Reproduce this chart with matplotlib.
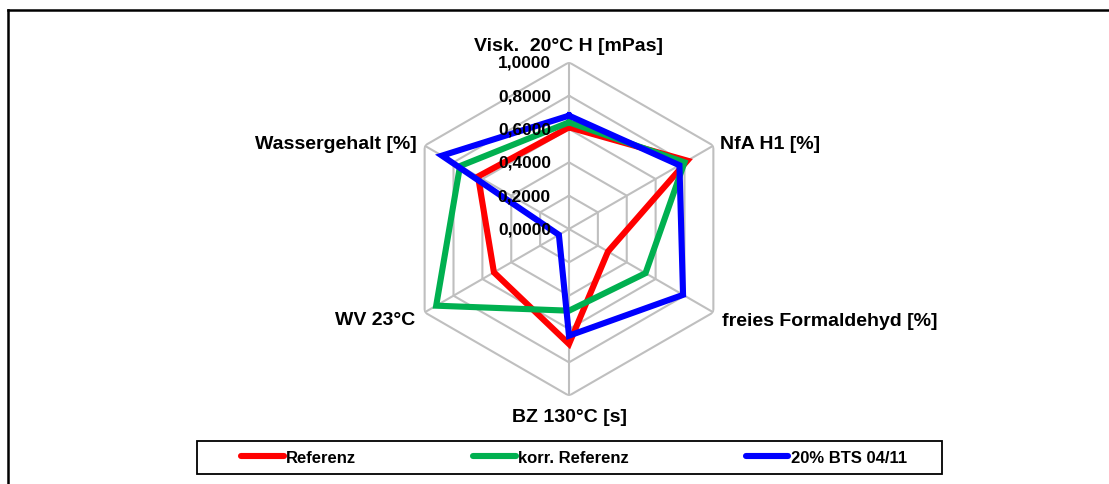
import numpy as np
import matplotlib
matplotlib.use("Agg")
import matplotlib.pyplot as plt
from matplotlib.lines import Line2D
from matplotlib.patches import Rectangle

plt.rcParams["font.family"] = ["Liberation Sans", "DejaVu Sans"]
plt.rcParams["font.weight"] = "bold"

W, H = 1109, 485

categories = [
    "Visk.  20°C H [mPas]",
    "NfA H1 [%]",
    "freies Formaldehyd [%]",
    "BZ 130°C [s]",
    "WV 23°C",
    "Wassergehalt [%]",
]
referenz = [0.61, 0.82, 0.27, 0.69, 0.52, 0.63]
korr_referenz = [0.64, 0.80, 0.53, 0.49, 0.92, 0.755]
bts_0411 = [0.68, 0.765, 0.79, 0.64, 0.07, 0.88]
series_names = ["Referenz", "korr. Referenz", "20% BTS 04/11"]
ring_values = [0.0, 0.2, 0.4, 0.6, 0.8, 1.0]
ring_labels = ["0,0000", "0,2000", "0,4000", "0,6000", "0,8000", "1,0000"]

COLORS = ["#FF0000", "#00B050", "#0000FF"]
GRID_COLOR = "#BFBFBF"

# label offsets in pixels (from the outer vertex of each spoke)
LABEL_OFFSETS = [(0, 17, "center"), (7, 2, "left"), (9, -8, "left"),
                 (0, -21, "center"), (-9, -7, "right"), (-8, 2, "right")]

fig = plt.figure(figsize=(W / 100, H / 100), dpi=100)

cx, cy, rad = 569, 230, 166.7
ax = fig.add_axes([(cx - rad) / W, (H - cy - rad) / H, 2 * rad / W, 2 * rad / H],
                  projection="polar")
ax.set_theta_offset(np.pi / 2)
ax.set_theta_direction(-1)
ax.set_ylim(0, 1.0)
ax.grid(False)
ax.spines["polar"].set_visible(False)
ax.set_xticks([])
ax.set_yticks([])
ax.patch.set_alpha(0)

n = len(categories)
angles = np.linspace(0, 2 * np.pi, n, endpoint=False)
closed = np.append(angles, angles[0])

# hexagon rings and spokes
for v in ring_values[1:]:
    ax.plot(closed, [v] * (n + 1), color=GRID_COLOR, lw=1.5, zorder=1)
for a in angles:
    ax.plot([a, a], [0, 1.0], color=GRID_COLOR, lw=1.5, zorder=1)

for i, vals in enumerate([referenz, korr_referenz, bts_0411]):
    ax.plot(closed, vals + vals[:1], color=COLORS[i], lw=4.4,
            solid_joinstyle="miter", zorder=3 + i)

for v, lab in zip(ring_values, ring_labels):
    ax.annotate(lab, xy=(0, v), xytext=(-18, 0), textcoords="offset pixels",
                ha="right", va="center", fontsize=12.5, fontweight="bold",
                zorder=10, annotation_clip=False)

for a, lab, (dx, dy, ha) in zip(angles, categories, LABEL_OFFSETS):
    ax.annotate(lab, xy=(a, 1.0), xytext=(dx, dy), textcoords="offset pixels",
                ha=ha, va="center", fontsize=14, fontweight="bold",
                annotation_clip=False)

# legend box
fig.add_artist(Rectangle((197 / W, 1 - 475 / H), (942 - 197) / W, 33 / H,
                         transform=fig.transFigure, fill=False,
                         edgecolor="black", lw=1.3))
handles = [Line2D([], [], color=c, lw=4.4, solid_capstyle="round") for c in COLORS]
fig.legend(handles, series_names, loc="center", ncol=3, frameon=False,
           bbox_to_anchor=(574 / W, 1 - 458.5 / H),
           prop={"size": 12, "weight": "bold"},
           handlelength=2.55, handletextpad=0.15, columnspacing=7.0)

# outer chart frame (top and left edge)
fig.add_artist(Line2D([7.5 / W, 1.0], [1 - 10.5 / H, 1 - 10.5 / H],
                      transform=fig.transFigure, color="black", lw=1.8))
fig.add_artist(Line2D([7.5 / W, 7.5 / W], [0, 1 - 10.5 / H],
                      transform=fig.transFigure, color="black", lw=1.8))

fig.savefig("out.png", dpi=100)
